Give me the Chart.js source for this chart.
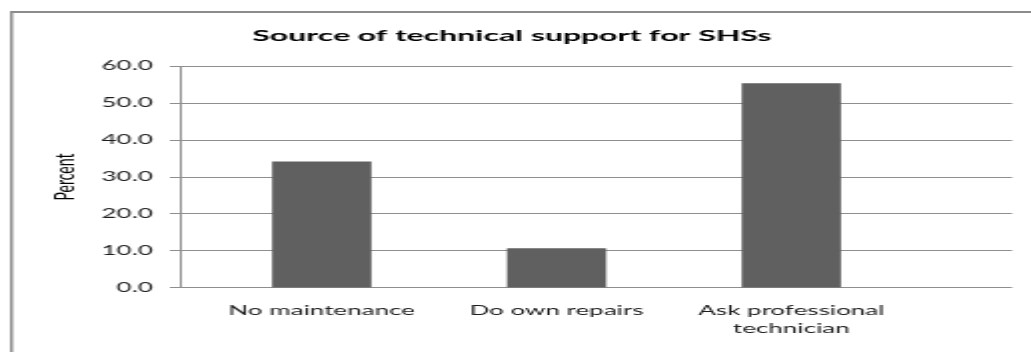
<!DOCTYPE html>
<html>
<head>
<meta charset="utf-8">
<script src="https://cdn.jsdelivr.net/npm/chart.js@4.4.1/dist/chart.umd.min.js"></script>
<style>
  html, body { margin: 0; padding: 0; background: #ffffff; overflow: hidden; }
</style>
</head>
<body>
<canvas id="chart" width="516" height="352" style="display:block;width:1031px;height:352px"></canvas>
<script>
// Survey results: where households get technical support for their solar home systems
const chartTitle = 'Source of technical support for SHSs';
const yAxisTitle = 'Percent';
const categories = ['No maintenance', 'Do own repairs', ['Ask professional', 'technician']];
const percent = [34.1, 10.6, 55.3];
const yMin = 0;
const yMax = 60;
const yStep = 10;

const gridGrey = '#8e8e8e';
const textColor = '#1e1e1e';

// light grey frame around the figure
const framePlugin = {
  id: 'frame',
  beforeDraw(chart) {
    const ctx = chart.ctx;
    ctx.save();
    ctx.fillStyle = '#ffffff';
    ctx.fillRect(0, 0, chart.width, chart.height);
    ctx.fillStyle = '#8c8c8c';
    ctx.fillRect(5, 11, chart.width, 2);
    ctx.fillRect(5, 11, 1.5, chart.height);
    ctx.restore();
  }
};

new Chart(document.getElementById('chart'), {
  type: 'bar',
  data: {
    labels: categories,
    datasets: [{
      data: percent,
      backgroundColor: '#606060',
      borderWidth: 0,
      barThickness: 49
    }]
  },
  plugins: [framePlugin],
  options: {
    responsive: false,
    animation: false,
    events: [],
    layout: { padding: { left: 6, right: 9.5, top: 12, bottom: 0 } },
    plugins: {
      legend: { display: false },
      tooltip: { enabled: false },
      title: {
        display: true,
        text: chartTitle,
        color: '#000000',
        font: { family: 'Lato', size: 16, weight: 'bold' },
        padding: { top: 14, bottom: 21.1 }
      }
    },
    scales: {
      x: {
        type: 'category',
        offset: false,
        grid: { display: false, drawTicks: false },
        border: { display: false },
        ticks: {
          color: textColor,
          padding: 14,
          maxRotation: 0,
          autoSkip: false,
          font: { family: 'Lato', size: 13, lineHeight: 1.4 }
        },
        afterBuildTicks(scale) {
          // leave extra room on the right of the last category
          scale._startValue = -0.6;
          scale._valueRange = 3.54;
        },
        afterFit(scale) { scale.height = 64.3; }
      },
      y: {
        min: yMin,
        max: yMax,
        grid: { color: gridGrey, lineWidth: 1, tickLength: 5.5, drawTicks: true },
        border: { display: true, color: gridGrey, width: 1 },
        ticks: {
          stepSize: yStep,
          padding: 8.5,
          color: textColor,
          font: { family: 'Lato', size: 13 },
          callback: (v) => Number(v).toFixed(1)
        },
        title: {
          display: true,
          text: yAxisTitle,
          color: '#000000',
          font: { family: 'Lato', size: 14 },
          padding: { top: 17.6, bottom: 0 }
        },
        afterFit(scale) { scale.width = 84.5; }
      }
    }
  }
});
</script>
</body>
</html>
